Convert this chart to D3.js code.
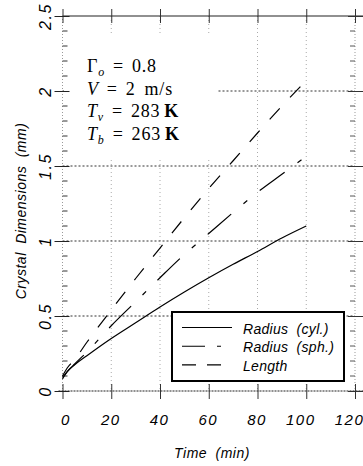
<!DOCTYPE html>
<html>
<head>
<meta charset="utf-8">
<script src="https://cdn.jsdelivr.net/npm/d3@7"></script>
<style>
  body { margin: 0; background: #fff; }
  svg { display: block; }
  .tick text { font-family: "Liberation Sans", Arial, sans-serif; font-style: italic; }
</style>
</head>
<body>
<svg id="chart"></svg>
<script>
// values (time in min, sizes in mm)
const time = [0, 2, 5, 10, 20, 30, 40, 50, 60, 70, 80, 90, 100];
const radiusCyl = [0.08, 0.13, 0.175, 0.235, 0.35, 0.455, 0.56, 0.66, 0.755, 0.845, 0.93, 1.02, 1.1];
const radiusSph = [0.09, 0.13, 0.18, 0.26, 0.435, 0.595, 0.755, 0.91, 1.05, 1.19, 1.325, 1.445, 1.565];
const lengthVals = [0.1, 0.155, 0.21, 0.325, 0.54, 0.75, 0.953, 1.155, 1.35, 1.535, 1.72, 1.9, 2.07];

const seriesNames = ["Radius (cyl.)", "Radius (sph.)", "Length"];
const xTicks = [0, 20, 40, 60, 80, 100, 120];
const yTicks = [0, 0.5, 1, 1.5, 2, 2.5];
const yTickLabels = ["0", "0.5", "1", "1.5", "2", "2.5"];

const W = 363, H = 466;
const svg = d3.select("#chart").attr("width", W).attr("height", H);

const x = d3.scaleLinear().domain([0, 120]).range([62.5, 355]);
const y = d3.scaleLinear().domain([0, 2.5]).range([391, 16]);

const series = [
  { name: seriesNames[0], values: radiusCyl, dash: null },
  { name: seriesNames[1], values: radiusSph, dash: "31,16,5,16" },
  { name: seriesNames[2], values: lengthVals, dash: "15,15" }
];

// grid
const grid = svg.append("g");
grid.selectAll(".vgrid").data(xTicks.slice(1, -1)).join("line")
  .attr("x1", d => x(d)).attr("x2", d => x(d))
  .attr("y1", y(2.5)).attr("y2", y(0))
  .attr("stroke", "#aaa").attr("stroke-width", 1).attr("stroke-dasharray", "1,3");
grid.selectAll(".hgrid").data(yTicks.slice(1, -1)).join("line")
  .attr("x1", x(0)).attr("x2", x(120))
  .attr("y1", d => y(d)).attr("y2", d => y(d))
  .attr("stroke", "#333").attr("stroke-width", 1).attr("stroke-dasharray", "2,2");

// side axis lines
grid.selectAll(".side").data([0, 120]).join("line")
  .attr("x1", d => x(d)).attr("x2", d => x(d))
  .attr("y1", y(2.5)).attr("y2", y(0))
  .attr("stroke", "#999").attr("stroke-dasharray", "1,2");
svg.append("line")
  .attr("x1", x(0)).attr("x2", W).attr("y1", y(2.5)).attr("y2", y(2.5))
  .attr("stroke", "#222").attr("stroke-width", 1.2);
svg.append("line")
  .attr("x1", x(0) - 4).attr("x2", W).attr("y1", y(0)).attr("y2", y(0))
  .attr("stroke", "#222").attr("stroke-width", 1.2).attr("stroke-dasharray", "2,1");

// white box behind parameter text
svg.append("rect").attr("x", 64).attr("y", 35).attr("width", 154).attr("height", 123).attr("fill", "#fff");

// minor y ticks
const minor = d3.range(0, 26).map(i => i / 10).filter(v => Math.round(v * 10) % 5 !== 0);
svg.append("g").selectAll("line").data(minor).join("line")
  .attr("x1", x(0)).attr("x2", x(0) + 5)
  .attr("y1", d => y(d)).attr("y2", d => y(d))
  .attr("stroke", "#333");
svg.append("g").selectAll("line").data(minor).join("line")
  .attr("x1", x(120) - 5).attr("x2", x(120))
  .attr("y1", d => y(d)).attr("y2", d => y(d))
  .attr("stroke", "#555");

// axes
const xAxis = svg.append("g").attr("transform", `translate(0,${y(0)})`)
  .call(d3.axisBottom(x).tickValues(xTicks).tickFormat(d3.format("d")));
xAxis.select(".domain").remove();
xAxis.selectAll(".tick line").attr("y1", -7).attr("y2", 8).attr("stroke", "#333");
xAxis.selectAll(".tick text").attr("y", 34).attr("dy", 0)
  .attr("dx", d => d === 0 ? 3 : d >= 100 ? -6 : -1)
  .attr("font-size", 15).attr("letter-spacing", 1.5).attr("fill", "#000");

const xTop = svg.append("g").attr("transform", `translate(0,${y(2.5)})`)
  .call(d3.axisTop(x).tickValues(xTicks).tickFormat(""));
xTop.select(".domain").remove();
xTop.selectAll(".tick line").attr("y1", -7).attr("y2", 7).attr("stroke", "#333");

const yAxis = svg.append("g").attr("transform", `translate(${x(0)},0)`)
  .call(d3.axisLeft(y).tickValues(yTicks).tickFormat((d, i) => yTickLabels[i]));
yAxis.select(".domain").remove();
yAxis.selectAll(".tick line").attr("x1", -8).attr("x2", 7).attr("stroke", "#222");
yAxis.selectAll(".tick text")
  .attr("x", 0).attr("dy", 0)
  .attr("transform", "translate(-12,0) rotate(-90)")
  .attr("text-anchor", "middle")
  .attr("font-size", 16).attr("letter-spacing", 1.5).attr("fill", "#000");

const yRight = svg.append("g").attr("transform", `translate(${x(120)},0)`)
  .call(d3.axisRight(y).tickValues(yTicks).tickFormat(""));
yRight.select(".domain").remove();
yRight.selectAll(".tick line").attr("x1", -7).attr("x2", 8).attr("stroke", "#333");

// curves
const line = d3.line()
  .x((d, i) => x(time[i]))
  .y(d => y(d))
  .curve(d3.curveMonotoneX);

svg.append("g").selectAll("path").data(series).join("path")
  .attr("d", d => line(d.values))
  .attr("fill", "none")
  .attr("stroke", "#000")
  .attr("stroke-width", 1.2)
  .attr("stroke-dasharray", d => d.dash);

// parameter text (TeX-like spacing via dx)
const params = svg.append("g")
  .attr("font-family", "'Liberation Serif', 'Times New Roman', serif")
  .attr("font-size", 18).attr("fill", "#000").attr("letter-spacing", 0.8);

function paramLine(yPos, sym, sub, value, unit, unitGap, bold) {
  const t = params.append("text").attr("x", 87).attr("y", yPos);
  t.append("tspan").attr("font-style", sym === "Γ" ? null : "italic").text(sym);
  if (sub) t.append("tspan").attr("font-style", "italic").attr("font-size", 12).attr("dy", 4).text(sub);
  t.append("tspan").attr("dy", sub ? -4 : 0).attr("dx", 8).text("=");
  t.append("tspan").attr("dx", 8).text(value);
  if (unit) t.append("tspan").attr("dx", unitGap).attr("font-weight", bold ? "bold" : null).text(unit);
}
paramLine(72, "Γ", "o", "0.8", null, 0, false);
paramLine(94.5, "V", null, "2", "m/s", 9, false);
paramLine(117, "T", "v", "283", "K", 4, true);
paramLine(139.5, "T", "b", "263", "K", 4, true);

// legend
const legend = svg.append("g");
legend.append("rect")
  .attr("x", 172).attr("y", 312).attr("width", 172).attr("height", 69)
  .attr("fill", "#fff").attr("stroke", "#000").attr("stroke-width", 2);
const legRows = legend.selectAll("g.row").data(series).join("g")
  .attr("transform", (d, i) => `translate(0,${327.5 + i * 18.7})`);
legRows.append("line")
  .attr("x1", 182).attr("x2", 232).attr("y1", 0).attr("y2", 0)
  .attr("stroke", "#000").attr("stroke-width", 1.1)
  .attr("stroke-dasharray", (d, i) => i === 1 ? "23,12,4,20" : i === 2 ? "14,11" : null);
legRows.append("text")
  .attr("x", 243).attr("y", 6)
  .attr("font-family", "'Liberation Sans', Arial, sans-serif")
  .attr("font-style", "italic").attr("font-size", 14)
  .attr("word-spacing", 4).attr("letter-spacing", 0.3)
  .text(d => d.name);

// axis titles
svg.append("text")
  .attr("x", 212).attr("y", 458).attr("text-anchor", "middle")
  .attr("font-family", "'Liberation Sans', Arial, sans-serif")
  .attr("font-style", "italic").attr("font-size", 14).attr("letter-spacing", 0.5)
  .attr("word-spacing", 4)
  .text("Time (min)");

svg.append("text")
  .attr("transform", "translate(26,211) rotate(-90)")
  .attr("text-anchor", "middle")
  .attr("font-family", "'Liberation Sans', Arial, sans-serif")
  .attr("font-style", "italic").attr("font-size", 14).attr("letter-spacing", 0.5)
  .attr("word-spacing", 4)
  .text("Crystal Dimensions (mm)");
</script>
</body>
</html>
